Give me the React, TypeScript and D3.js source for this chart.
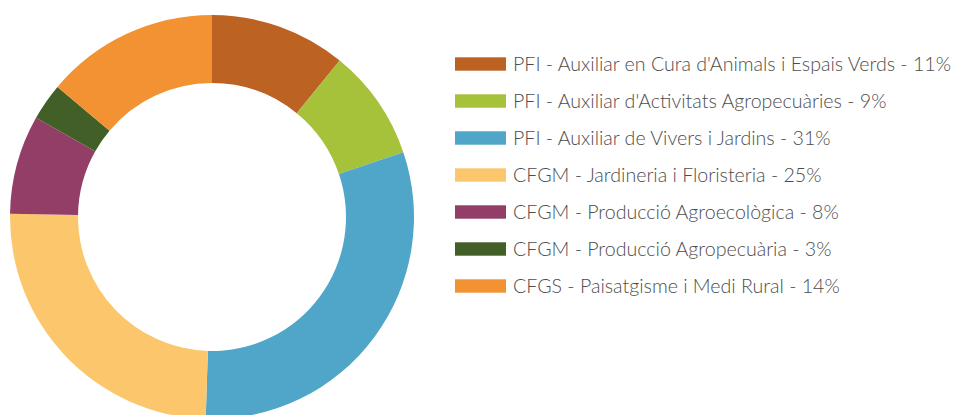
import { useEffect, useRef } from 'react';
import * as d3 from 'd3';

const labels = [
  "PFI - Auxiliar en Cura d'Animals i Espais Verds",
  "PFI - Auxiliar d'Activitats Agropecuàries",
  'PFI - Auxiliar de Vivers i Jardins',
  'CFGM - Jardineria i Floristeria',
  'CFGM - Producció Agroecològica',
  'CFGM - Producció Agropecuària',
  'CFGS - Paisatgisme i Medi Rural',
];
const values = [11, 9, 31, 25, 8, 3, 14];
const colors = ['#bc6323', '#a6c13a', '#50a6c8', '#fcc66c', '#923e66', '#415f26', '#f29232'];

const App = () => {
  const svgRef = useRef<SVGSVGElement>(null);

  useEffect(() => {
    const width = 957;
    const height = 415;
    const svg = d3.select(svgRef.current);
    svg.selectAll('*').remove();
    svg.attr('width', width).attr('height', height);

    // donut
    const g = svg.append('g').attr('transform', 'translate(212,217)');
    const pie = d3.pie<number>().sort(null).value(d => d);
    const arc = d3.arc<d3.PieArcDatum<number>>().innerRadius(134).outerRadius(202);

    g.selectAll('path')
      .data(pie(values))
      .enter().append('path')
      .attr('d', arc)
      .attr('fill', (d, i) => colors[i]);

    // legend
    const rowY = d3.scaleLinear().domain([0, 1]).range([57.3, 94.3]);
    const legend = svg.append('g');
    const items = legend.selectAll('g')
      .data(labels)
      .enter().append('g')
      .attr('transform', (d, i) => `translate(455,${rowY(i)})`);

    items.append('rect')
      .attr('width', 51)
      .attr('height', 13.4)
      .attr('fill', (d, i) => colors[i]);

    items.append('text')
      .attr('x', 58)
      .attr('y', 13.6)
      .attr('font-family', 'Lato, sans-serif')
      .attr('font-weight', 300)
      .attr('font-size', 19.6)
      .attr('fill', '#4d4d4d')
      .text((d, i) => `${d} - ${values[i]}%`);
  }, []);

  return <svg ref={svgRef} style={{ position: 'absolute', left: 0, top: 0 }}></svg>;
};

export default App;
